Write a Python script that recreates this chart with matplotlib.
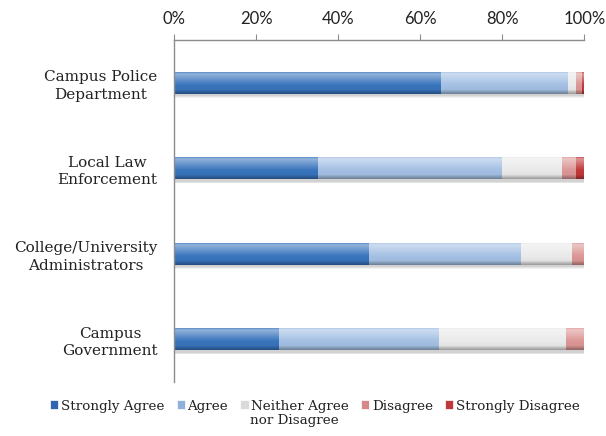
import matplotlib
matplotlib.use("Agg")
import matplotlib.pyplot as plt
from matplotlib.patches import Rectangle
from matplotlib.colors import to_rgb
import numpy as np

categories = ["Campus Police\nDepartment", "Local Law\nEnforcement",
              "College/University\nAdministrators", "Campus\nGovernment"]
series_names = ["Strongly Agree", "Agree", "Neither Agree\nnor Disagree",
                "Disagree", "Strongly Disagree"]
strongly_agree = [65.0, 35.0, 47.5, 25.5]
agree = [31.0, 45.0, 37.0, 39.0]
neither = [2.0, 14.5, 12.5, 31.0]
disagree = [1.5, 3.5, 3.0, 4.5]
strongly_disagree = [0.5, 2.0, 0.0, 0.0]
tick_values = [0, 20, 40, 60, 80, 100]
tick_labels = ["0%", "20%", "40%", "60%", "80%", "100%"]

colors = ["#3874BC", "#A3BFE3", "#E9E9E9", "#DB9695", "#C0383A"]
series = [strongly_agree, agree, neither, disagree, strongly_disagree]


def shade(c, t):
    c = np.array(to_rgb(c))
    if t >= 0:
        return c + (1 - c) * t
    return c * (1 + t)


# vertical profile (top -> bottom): position, lighten(+)/darken(-)
prof_pos = [0.0, 0.08, 0.2, 0.45, 0.6, 0.8, 0.9, 1.0]
prof_val = [0.15, 0.45, 0.35, 0.12, 0.0, -0.03, -0.2, -0.35]
N = 22

fig = plt.figure(figsize=(6.06, 4.36), dpi=100)
ax = fig.add_axes([174.3 / 606, 1 - 382 / 436, 410 / 606, 342 / 436])

y = np.arange(len(categories))
h = 0.255
total = np.sum(series, axis=0)

# soft shadow
for k, (dy, a) in enumerate([(0.045, 0.05), (0.035, 0.06), (0.025, 0.07)]):
    ax.barh(y + dy, total + 0.3 + 0.2 * k, height=h + 0.01, left=0,
            color="#000000", alpha=a, linewidth=0, zorder=1)

left = np.zeros(len(categories))
for i, vals in enumerate(series):
    vals = np.array(vals)
    for j in range(N):
        t0 = j / N
        tm = (j + 0.5) / N
        v = np.interp(tm, prof_pos, prof_val)
        col = np.clip(shade(colors[i], v), 0, 1)
        yc = y - h / 2 + (t0 + 0.5 / N) * h
        ax.barh(yc, vals, height=h / N * 1.15, left=left, color=col,
                linewidth=0, zorder=2 + j * 0.001)
    left = left + vals

ax.set_xlim(0, 100)
ax.set_ylim(3.5, -0.5)
ax.xaxis.tick_top()
ax.set_xticks(tick_values)
ax.set_xticklabels(tick_labels, fontfamily="Lato", fontsize=12,
                   color="#222222")
ax.tick_params(axis="x", direction="out", length=4, color="#8C8C8C",
               pad=5)
ax.set_yticks(y)
ax.set_yticklabels(categories, fontfamily="DejaVu Serif", fontsize=11,
                   color="#222222", linespacing=1.3)
for lab in ax.get_yticklabels():
    lab.set_multialignment("center")
ax.tick_params(axis="y", length=0, pad=12)
for s in ["right", "bottom"]:
    ax.spines[s].set_visible(False)
for s in ["left", "top"]:
    ax.spines[s].set_color("#8C8C8C")
    ax.spines[s].set_linewidth(1.0)

# legend
handles = [Rectangle((0, 0), 1, 1, facecolor=c, edgecolor="#FFFFFF",
                     linewidth=0.5) for c in
           ["#2F66AD", "#8FB0DB", "#DADADA", "#D58887", "#C0383A"]]
leg_labels = [n.split("\n")[0] for n in series_names]
leg = fig.legend(handles, leg_labels, loc="center", ncol=5,
                 bbox_to_anchor=(0.52, 1 - 406 / 436), frameon=False,
                 prop={"family": "DejaVu Serif", "size": 9.7},
                 handlelength=0.6, handleheight=0.6, handletextpad=0.2,
                 columnspacing=0.9, borderaxespad=0)
for tx in leg.get_texts():
    tx.set_color("#222222")
fig.canvas.draw()
t = leg.get_texts()[2]
bb = t.get_window_extent().transformed(fig.transFigure.inverted())
fig.text(bb.x0 - 0.002, bb.y0 - 0.004, series_names[2].split("\n")[1],
         ha="left", va="top", fontfamily="DejaVu Serif", fontsize=9.7,
         color="#222222")

fig.savefig("out.png", dpi=100)
